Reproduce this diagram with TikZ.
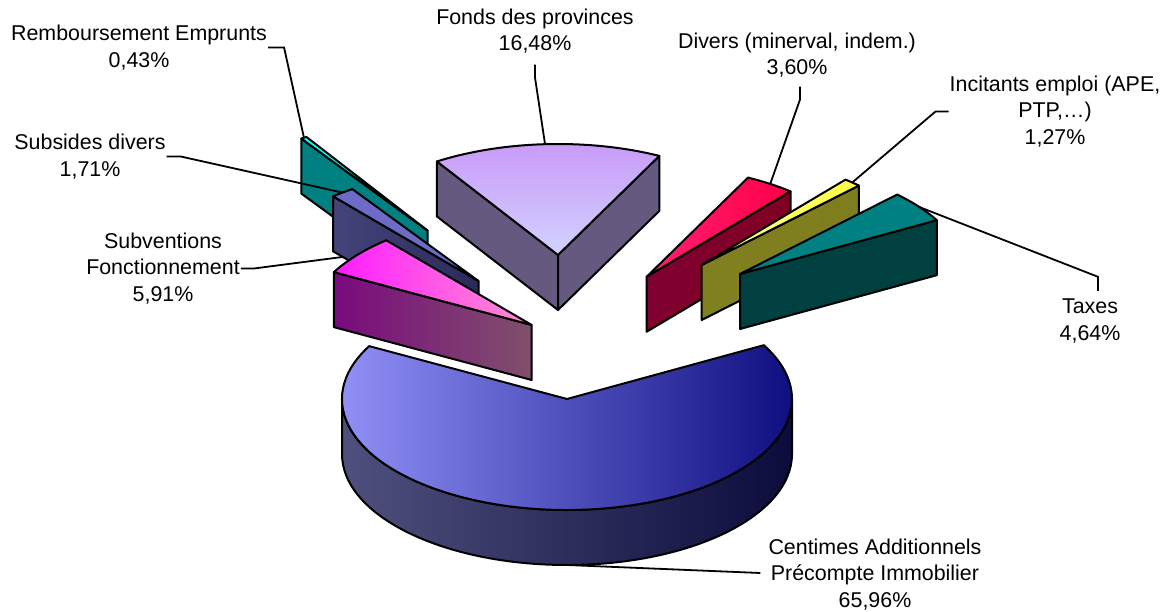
\documentclass[tikz,border=0pt]{standalone}
\usepackage{fontspec}
\setmainfont{Liberation Sans}
\usetikzlibrary{calc}
\definecolor{bigTL}{HTML}{9999FF}\definecolor{bigTM}{HTML}{7474D6}\definecolor{bigTR}{HTML}{0C0C7E}
\definecolor{bigSL}{HTML}{50507E}\definecolor{bigSM}{HTML}{3A3A68}\definecolor{bigSR}{HTML}{0C0C3C}
\definecolor{fonT}{HTML}{C898F8}\definecolor{fonB}{HTML}{D2D2FF}\definecolor{fonS}{HTML}{66597F}
\definecolor{remT}{HTML}{00FFFF}\definecolor{remS}{HTML}{008080}
\definecolor{subT}{HTML}{6C6CC8}\definecolor{subSL}{HTML}{44447A}\definecolor{subSR}{HTML}{2A2A5A}
\definecolor{svTL}{HTML}{FF1CFF}\definecolor{svTR}{HTML}{FF90D0}\definecolor{svSL}{HTML}{7A0A7E}\definecolor{svSR}{HTML}{80506C}
\definecolor{dvTL}{HTML}{FF2070}\definecolor{dvTM}{HTML}{FF00C8}\definecolor{dvTR}{HTML}{FF0048}
\definecolor{dvSL}{HTML}{800030}\definecolor{dvSM}{HTML}{800060}\definecolor{dvSR}{HTML}{800024}
\definecolor{icTL}{HTML}{FFFFA0}\definecolor{icTR}{HTML}{FFFF40}
\definecolor{icSL}{HTML}{808020}\definecolor{icSM}{HTML}{80805E}\definecolor{icSR}{HTML}{7E7E1E}
\definecolor{txT}{HTML}{008080}\definecolor{txS}{HTML}{004040}
\newcommand\radface[3]{\path[#1] (#2) -- ($(#2)+(#3:225pt and 111pt)$) -- ++(0,-55) -- ($(#2)+(0,-55)$) -- cycle;}
\newcommand\topface[4]{\path[#1] (#2) -- ($(#2)+(#3:225pt and 111pt)$) arc[start angle=#3,end angle=#4,x radius=225pt,y radius=111pt] -- cycle;}
\begin{document}
\begin{tikzpicture}[x=1pt,y=1pt,
  face/.style={draw=black, line width=2pt, line join=round},
  lead/.style={draw=black, line width=1.8pt, line join=miter},
  lbl/.style={align=center, font=\fontsize{21.4}{26.5}\selectfont, inner sep=1pt}]
\useasboundingbox (0,0) rectangle (1168,611);
% centres of the exploded slices
\coordinate (B) at (567,212);
\coordinate (F) at (558,356);
\coordinate (R) at (427.5,380.5);
\coordinate (S) at (478.5,330);
\coordinate (V) at (531.7,286);
\coordinate (D) at (646.7,334.3);
\coordinate (I) at (701.7,346);
\coordinate (T) at (740,337);
% labels
\node[lbl] (lremb) at (139,563.5) {Remboursement Emprunts\\0,43\%};
\node[lbl] (lfonds) at (535,580) {Fonds des provinces\\16,48\%};
\node[lbl] (ldiv) at (797,556) {Divers (minerval, indem.)\\3,60\%};
\node[lbl] (linc) at (1055,499.5) {Incitants emploi (APE,\\PTP,…)\\1,27\%};
\node[lbl] (lsubs) at (90,454.5) {Subsides divers\\1,71\%};
\node[lbl] (lsubv) at (163,342.5) {Subventions\\Fonctionnement\\5,91\%};
\node[lbl] (ltax) at (1090,290) {Taxes\\4,64\%};
\node[lbl] (lcent) at (875,36.5) {Centimes Additionnels\\Précompte Immobilier\\65,96\%};
% leader anchors
\coordinate (rembA) at ($(R)+(123.3:225pt and 111pt)$);
\coordinate (fondsA) at ($(F)+(93.3:225pt and 111pt)$);
\coordinate (subsA) at ($(S)+(127.2:225pt and 111pt)$);
\coordinate (subvA) at (350,355);
\coordinate (divA) at ($(D)+(56.7:225pt and 111pt)$);
\coordinate (incA) at ($(I)+(48:225pt and 111pt)$);
\coordinate (taxA) at ($(T)+(37:225pt and 111pt)$);
\coordinate (bigA) at ($(B)+(0,-166)$);
% Fonds des provinces
\radface{face, fill=fonS}{F}{122.56}
\radface{face, fill=fonS}{F}{63.23}
\topface{face, top color=fonT, bottom color=fonB}{F}{63.23}{122.56}
% Remboursement Emprunts
\radface{face, fill=remS}{R}{124.11}
\topface{face, fill=remT}{R}{122.56}{124.11}
% leaders passing under / over left slices
\draw[lead] (lsubs.east) -- ++(14,0) -- (subsA);
\draw[lead] (lsubv.east) -- ++(13,0) -- (subvA);
% Subsides divers
\radface{face, left color=subSL, right color=subSR}{S}{130.27}
\topface{face, fill=subT}{S}{124.11}{130.27}
% Subventions Fonctionnement
\radface{face, left color=svSL, right color=svSR}{V}{151.55}
\topface{face, left color=svTL, right color=svTR}{V}{130.27}{151.55}
% Divers
\radface{face, left color=dvSL, middle color=dvSM, right color=dvSR}{D}{50.27}
\topface{face, left color=dvTL, middle color=dvTM, right color=dvTR}{D}{50.27}{63.23}
% Incitants emploi
\radface{face, left color=icSL, middle color=icSM, right color=icSR}{I}{45.7}
\topface{face, left color=icTL, right color=icTR}{I}{45.7}{50.27}
% Taxes
\radface{face, fill=txS}{T}{29}
\topface{face, fill=txT}{T}{29}{45.7}
% Centimes Additionnels
\path[face, left color=bigSL, middle color=bigSM, right color=bigSR]
  ($(B)+(180:225pt and 111pt)$) arc[start angle=180,end angle=360,x radius=225pt,y radius=111pt]
  -- ++(0,-55) arc[start angle=360,end angle=180,x radius=225pt,y radius=111pt] -- cycle;
\topface{face, left color=bigTL, middle color=bigTM, right color=bigTR}{B}{151.55}{389}
% remaining leaders
\draw[lead] (lremb.east) -- ++(16,0) -- (rembA);
\draw[lead] ([yshift=-10pt]lfonds.south) -- ++(0,-13) -- (fondsA);
\draw[lead] ([xshift=3pt,yshift=-8pt]ldiv.south) -- ++(0,-13) -- (divA);
\draw[lead] (linc.west) -- ++(-13,0) -- (incA);
\draw[lead] ([xshift=8pt,yshift=7pt]ltax.north) -- ++(0,14) -- (taxA);
\draw[lead] (bigA) -- ([xshift=-7pt,yshift=1.5pt]lcent.west);
\end{tikzpicture}
\end{document}
